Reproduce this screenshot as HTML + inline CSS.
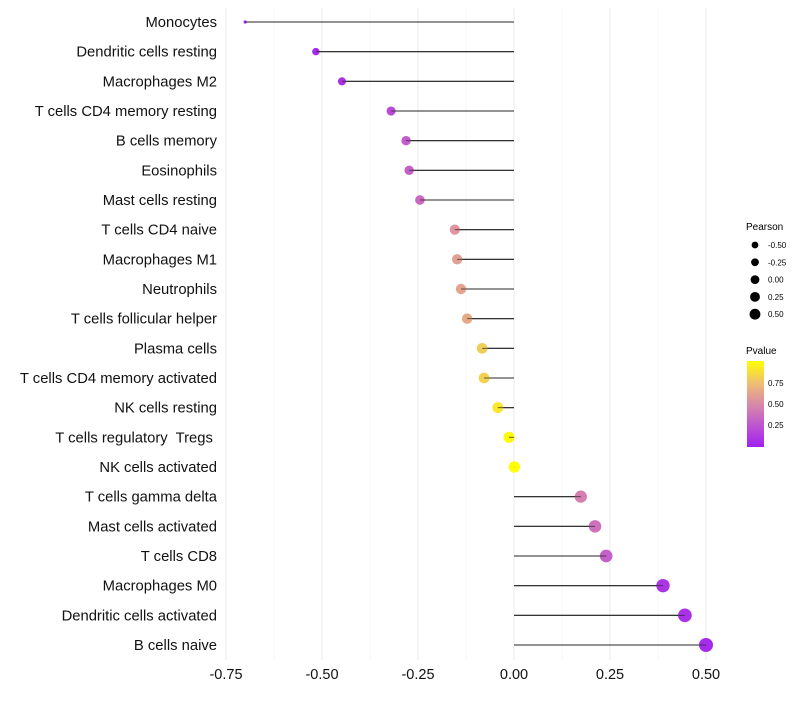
<!DOCTYPE html>
<html><head><meta charset="utf-8"><style>
body{margin:0;background:#fff;font-family:"Liberation Sans",sans-serif}
text{white-space:pre}
</style></head><body>
<svg id="chart" width="800" height="700" xmlns="http://www.w3.org/2000/svg" font-family="Liberation Sans, sans-serif">
<g id="grid"></g>
<g id="marks"></g>
<g id="ylabels"></g>
<g id="xlabels"></g>
<g>
<text x="746" y="230" font-size="10">Pearson</text>
<g id="sizeleg"></g>
</g>
<g>
<defs><linearGradient id="pg" x1="0" y1="1" x2="0" y2="0">
<stop offset="0" stop-color="#a020f0"/><stop offset="0.25" stop-color="#bf55d0"/><stop offset="0.5" stop-color="#d98aa8"/><stop offset="0.75" stop-color="#f0c070"/><stop offset="1" stop-color="#ffff00"/></linearGradient></defs>
<text x="746" y="354" font-size="10">Pvalue</text>
<rect x="747" y="361" width="17" height="86" fill="url(#pg)"/>
<text x="768" y="386" font-size="8">0.75</text>
<text x="768" y="407" font-size="8">0.50</text>
<text x="768" y="428" font-size="8">0.25</text>
</g>
</svg>
<script>
const categories=["Monocytes","Dendritic cells resting","Macrophages M2","T cells CD4 memory resting","B cells memory","Eosinophils","Mast cells resting","T cells CD4 naive","Macrophages M1","Neutrophils","T cells follicular helper","Plasma cells","T cells CD4 memory activated","NK cells resting","T cells regulatory  Tregs ","NK cells activated","T cells gamma delta","Mast cells activated","T cells CD8","Macrophages M0","Dendritic cells activated","B cells naive"];
const pearson=[-0.70,-0.516,-0.448,-0.32,-0.281,-0.273,-0.245,-0.154,-0.148,-0.138,-0.122,-0.083,-0.078,-0.042,-0.013,0.001,0.174,0.211,0.24,0.388,0.445,0.50];
const pvalue=[0.0,0.05,0.08,0.2,0.28,0.3,0.35,0.55,0.6,0.62,0.65,0.8,0.82,0.9,0.98,1.0,0.45,0.38,0.3,0.1,0.08,0.05];
const xTicks=[-0.75,-0.5,-0.25,0,0.25,0.5];
const xTickLabels=["-0.75","-0.50","-0.25","0.00","0.25","0.50"];
const sizeLegendValues=[-0.5,-0.25,0,0.25,0.5];
const sizeLegendLabels=["-0.50","-0.25","0.00","0.25","0.50"];
const NS="http://www.w3.org/2000/svg";
const x=v=>514+v*384;
const y=i=>22+i*(623/21);
const r=v=>v<-0.65?1.6:Math.sqrt(Math.max(4,14+(v+0.516)*34.4));
const rl=v=>4.4+2*v;
function col(p){const st=[[0,[160,32,240]],[0.25,[191,85,208]],[0.5,[217,138,168]],[0.75,[240,192,112]],[1,[255,255,0]]];
for(let k=0;k<st.length-1;k++){if(p<=st[k+1][0]){const t=(p-st[k][0])/(st[k+1][0]-st[k][0]);const a=st[k][1],b=st[k+1][1];return `rgb(${a.map((c,j)=>Math.round(c+(b[j]-c)*t)).join(',')})`;}}return 'rgb(255,255,0)';}
function mk(tag,at,parent){const e=document.createElementNS(NS,tag);for(const k in at)e.setAttribute(k,at[k]);parent.appendChild(e);return e;}
const grid=document.getElementById('grid'),marks=document.getElementById('marks'),yl=document.getElementById('ylabels'),xl=document.getElementById('xlabels');
for(let v=-0.75;v<=0.5001;v+=0.125){const g=mk('line',{x1:x(v),x2:x(v),y1:8,y2:660,stroke:Math.abs(v/0.25-Math.round(v/0.25))<1e-6?'#ebebeb':'#f4f4f4','stroke-width':1},grid);

}
xTicks.forEach((v,i)=>{const t=mk('text',{x:x(v),y:679,'font-size':14.5,'text-anchor':'middle',fill:'#111'},xl);t.textContent=xTickLabels[i];

});
categories.forEach((c,i)=>{const t=mk('text',{x:217,y:y(i)+5,'font-size':14.8,'text-anchor':'end',fill:'#111'},yl);t.textContent=c;


const l=mk('line',{x1:x(0),x2:x(pearson[i]),y1:y(i),y2:y(i),stroke:'#333','stroke-width':1.1},marks);


const d=mk('circle',{cx:x(pearson[i]),cy:y(i),r:r(pearson[i]),fill:col(pvalue[i])},marks);


const l2=mk('line',{x1:x(0),x2:x(pearson[i]),y1:y(i),y2:y(i),stroke:'#222','stroke-width':1,'stroke-opacity':0.7},marks);

});
const sl=document.getElementById('sizeleg');
sizeLegendValues.forEach((v,i)=>{const cy=245+i*17.3;const c=mk('circle',{cx:755,cy:cy,r:rl(v),fill:'#000'},sl);


const t=mk('text',{x:768,y:cy+3,'font-size':8},sl);t.textContent=sizeLegendLabels[i];

});
</script>
</body></html>
